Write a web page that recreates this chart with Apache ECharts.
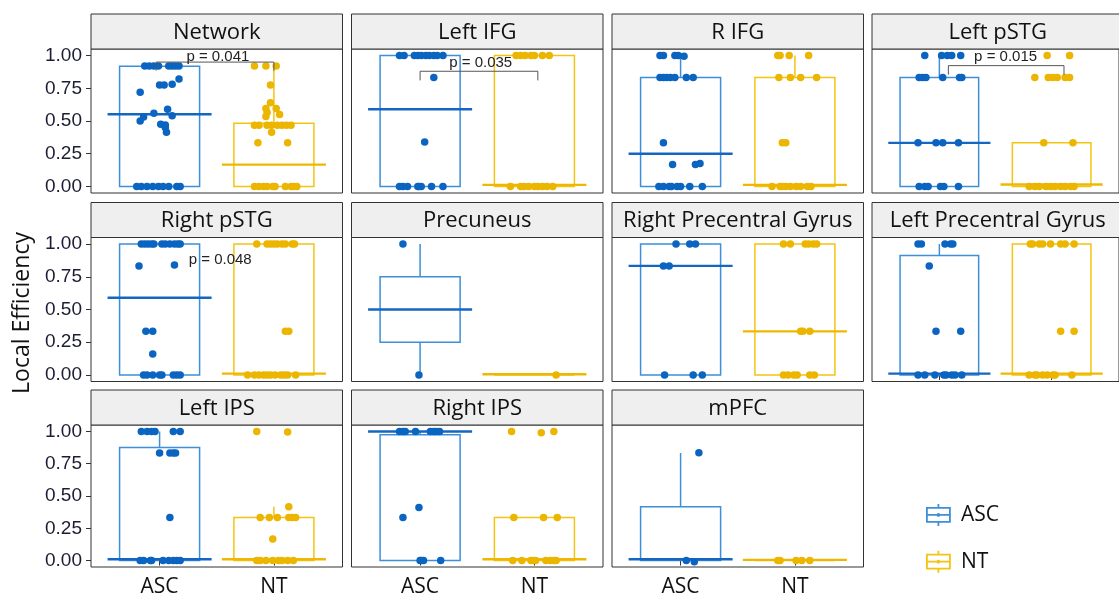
<!DOCTYPE html>
<html><head><meta charset="utf-8">
<script src="https://cdn.jsdelivr.net/npm/echarts@6/dist/echarts.min.js"></script>
<style>html,body{margin:0;padding:0;background:#fff}#c{width:1119px;height:598px}</style>
</head><body><div id="c"></div>
<script>
// ---------- data ----------
const panels = ['Network','Left IFG','R IFG','Left pSTG','Right pSTG','Precuneus',
  'Right Precentral Gyrus','Left Precentral Gyrus','Left IPS','Right IPS','mPFC'];
const groups = ['ASC','NT'];
const yTicks = [0, 0.25, 0.5, 0.75, 1];
// box stats per panel: [min, q1, median, q3, max]
const ascStats = [[0,0,0.551,0.918,0.918],[0,0,0.59,1,1],[0,0,0.25,0.833,1],[0,0,0.333,0.833,1],
  [0,0,0.59,1,1],[0,0.25,0.5,0.75,1],[0,0,0.833,1,1],[0,0,0.01,0.913,1],[0,0,0.01,0.875,1],
  [0,0,1,0.975,1],[0,0,0.01,0.417,0.833]];
const ntStats = [[0,0,0.167,0.482,0.92],[0,0,0.012,1,1],[0,0,0.012,0.833,1],[0,0,0.015,0.333,0.333],
  [0,0,0.01,1,1],[0,0,0.005,0,0],[0,0,0.333,1,1],[0,0,0.01,1,1],[0,0,0.01,0.333,0.417],
  [0,0,0.01,0.333,0.333],[0,0,0.005,0,0]];
// points per panel: [horizontal jitter, value]
const ascPoints = [
 [[-0.13,0.92],[-0.09,0.92],[-0.05,0.92],[-0.01,0.92],[0.08,0.92],[0.11,0.92],[0.14,0.92],[0.17,0.92],
  [0.17,0.82],[0,0.775],[0.04,0.775],[0.11,0.78],[-0.17,0.72],[0.07,0.59],[-0.05,0.56],[0.11,0.54],[-0.14,0.53],
  [-0.17,0.5],[0.01,0.475],[0.05,0.47],[0.05,0.45],[0.06,0.415],
  [-0.2,0],[-0.16,0],[-0.11,0],[-0.06,0],[-0.01,0],[0.03,0],[0.08,0],[0.15,0],[0.18,0]],
 [[-0.18,1],[-0.14,1],[-0.05,1],[-0.02,1],[0.01,1],[0.05,1],[0.08,1],[0.12,1],[0.15,1],[0.2,1],[0.12,0.833],[0.04,0.34],
  [-0.18,0],[-0.15,0],[-0.11,0],[-0.02,0],[-0.01,0],[0.01,0],[0.1,0],[0.2,0]],
 [[-0.18,1],[-0.15,1],[-0.05,1],[-0.02,1],[0.03,0.995],[-0.18,0.833],[-0.15,0.833],[-0.12,0.833],[-0.09,0.833],
  [-0.05,0.833],[0.05,0.833],[0.11,0.833],[-0.15,0.333],[-0.07,0.167],[0.13,0.167],[0.17,0.175],
  [-0.19,0],[-0.15,0],[-0.1,0],[-0.08,0],[-0.03,0],[0,0],[0.08,0],[0.19,0]],
 [[-0.13,1],[0.02,1],[0.07,1],[0.11,1],[0.19,1],[-0.18,0.833],[-0.15,0.833],[-0.12,0.833],[0.03,0.833],[0.18,0.833],
  [0.2,0.833],[-0.19,0.333],[-0.03,0.333],[0.03,0.333],[0.17,0.333],
  [-0.18,0],[-0.13,0],[-0.1,0],[0.01,0],[0.04,0],[0.17,0]],
 [[-0.16,1],[-0.13,1],[-0.1,1],[-0.07,1],[-0.05,1],[0.02,1],[0.05,1],[0.09,1],[0.13,1],[0.16,1],[0.18,1],
  [-0.18,0.833],[0.13,0.84],[-0.12,0.333],[-0.06,0.333],[-0.06,0.16],
  [-0.14,0],[-0.11,0],[-0.06,0],[0,0],[0.02,0],[0.12,0],[0.15,0],[0.18,0]],
 [[-0.15,1],[-0.01,0]],
 [[-0.04,1],[0.08,1],[0.13,1],[-0.15,0.833],[-0.1,0.833],[-0.14,0],[0.11,0],[0.19,0]],
 [[-0.19,1],[-0.16,1],[0.05,1],[0.1,1],[0.12,1],[-0.09,0.833],[-0.03,0.333],[0.19,0.333],
  [-0.19,0],[-0.13,0],[-0.04,0],[0.04,0],[0.06,0],[0.11,0],[0.14,0],[0.2,0]],
 [[-0.16,1],[-0.11,1],[-0.07,1],[-0.04,1],[0.12,1],[0.18,1],[0,0.833],[0.09,0.833],[0.12,0.833],[0.14,0.833],
  [0.09,0.333],[-0.17,0],[-0.14,0],[-0.08,0],[-0.07,0],[0.03,0],[0.08,0],[0.12,0],[0.15,0],[0.18,0]],
 [[-0.18,1],[-0.15,1],[-0.13,1],[-0.04,1],[0.09,1],[0.12,1],[0.14,1],[0.17,1],[-0.01,0.41],[-0.15,0.333],
  [0,0],[0.01,0],[0.03,0],[0.18,0]],
 [[0.16,0.836],[0.05,0],[0.12,-0.01]]
];
const ntPoints = [
 [[-0.17,0.92],[-0.07,0.92],[0.02,0.92],[-0.03,0.775],[-0.03,0.64],[-0.07,0.595],[0.02,0.595],[-0.06,0.565],
  [0.05,0.55],[-0.07,0.535],[-0.17,0.467],[-0.13,0.467],[-0.06,0.467],[-0.02,0.467],[0.03,0.467],[0.07,0.467],
  [0.11,0.467],[0.15,0.467],[-0.02,0.415],[-0.14,0.333],[0.12,0.333],
  [-0.17,0],[-0.13,0],[-0.09,0],[-0.06,0],[-0.01,0],[0.01,0],[0.1,0],[0.15,0],[0.17,0],[0.2,0]],
 [[-0.16,1],[-0.12,1],[-0.08,1],[-0.03,1],[0,1],[0.07,1],[0.13,1],
  [-0.21,0],[-0.12,0],[-0.09,0],[-0.05,0],[0,0],[0.03,0],[0.07,0],[0.11,0],[0.16,0]],
 [[-0.15,1],[-0.13,1],[-0.05,1],[0.12,1],[-0.14,0.833],[-0.04,0.833],[0.05,0.833],[0.19,0.833],[-0.11,0.333],
  [-0.08,0.333],[-0.2,0],[-0.13,0],[-0.11,0],[-0.08,0],[-0.04,0],[0.01,0],[0.05,0],[0.11,0],[0.14,0]],
 [[-0.04,1],[0.16,1],[-0.15,0.833],[-0.03,0.833],[0.01,0.833],[0.05,0.833],[0.12,0.833],[0.16,0.833],
  [-0.07,0.333],[0.19,0.333],[-0.2,0],[-0.15,0],[-0.11,0],[-0.05,0],[-0.01,0],[0.03,0],[0.08,0],[0.12,0],[0.17,0],[0.2,0]],
 [[-0.15,1],[-0.06,1],[-0.03,1],[0,1],[0.03,1],[0.07,1],[0.1,1],[0.16,1],[0.18,1],[0.1,0.333],[0.13,0.333],
  [-0.23,0],[-0.17,0],[-0.13,0],[-0.09,0],[-0.06,0],[-0.03,0],[0.01,0],[0.06,0],[0.09,0],[0.12,0],[0.19,0]],
 [[0.19,0]],
 [[-0.1,1],[-0.04,1],[0.09,1],[0.12,1],[0.16,1],[0.19,1],[0.05,0.333],[0.07,0.333],[0.13,0.333],
  [-0.1,0],[-0.06,0],[-0.01,0],[0.02,0],[0.13,0],[0.17,0]],
 [[-0.19,1],[-0.17,1],[-0.11,1],[-0.08,1],[-0.01,1],[0.08,1],[0.12,1],[0.2,1],[0.08,0.333],[0.2,0.333],
  [-0.2,0],[-0.15,0],[-0.13,0],[-0.08,0],[-0.04,0],[0.01,0],[0.03,0],[0.18,0]],
 [[-0.15,1],[0.12,0.995],[0.13,0.417],[-0.12,0.333],[-0.04,0.333],[0.03,0.333],[0.13,0.333],[0.16,0.333],
  [0.19,0.333],[-0.01,0.167],[-0.15,0],[-0.12,0],[-0.07,0],[-0.01,0],[0.04,0],[0.07,0],[0.12,0],[0.17,0]],
 [[-0.2,1],[0.06,0.99],[0.17,1],[-0.18,0.333],[0.08,0.333],[0.2,0.333],[-0.19,0],[-0.11,0],[-0.03,0],
  [-0.01,0],[0.01,0],[0.1,0],[0.14,0],[0.17,0],[0.19,0]],
 [[-0.15,0],[-0.13,0],[0.01,0],[0.06,0],[0.13,0]]
];
// p-value annotations
const pLabels = ['p = 0.041','p = 0.035','p = 0.015','p = 0.048'];
const pPanel = [0, 1, 3, 4];
const pBracket = [[0.97,2.0,0.95,0.885],[1.0,2.03,0.88,0.81],[1.08,2.11,0.923,0.854],null]; // x1,x2,y,drop
const pText = [[1.51,0.99],[1.53,0.944],[1.59,0.988],[1.53,0.877]];

// ---------- style / layout ----------
const boxColor = {ASC:'#3d8fd9', NT:'#f4c412'};
const medColor = {ASC:'#1466c1', NT:'#efb800'};
const ptColor = {ASC:'#0a64c0', NT:'#ebb500'};
const colX = [91, 351.5, 612, 872];
const rowY = [14, 202.5, 390];
const PW = 251.5, SH = 35, PH = 144;
const stripFont = '"Open Sans", sans-serif';
const tickFont = '"Liberation Sans", Arial, sans-serif';

const grids = [], xAxes = [], yAxes = [], series = [], graphics = [];
panels.forEach((name, i) => {
  const c = i % 4, r = Math.floor(i / 4);
  const left = colX[c], top = rowY[r] + SH;
  grids.push({left: left, top: top, width: PW, height: PH, show: true,
    borderColor: '#333', borderWidth: 1, backgroundColor: '#fff'});
  const showX = (r === 2) || i === 7;
  const labX = r === 2;
  xAxes.push({type: 'value', gridIndex: i, min: 0.4, max: 2.6,
    axisLine: {show: false}, splitLine: {show: false},
    axisTick: {show: showX, customValues: [1, 2], length: 5, lineStyle: {color: '#333'}},
    axisLabel: {show: labX, customValues: [1, 2], formatter: v => groups[Math.round(v) - 1],
      fontSize: 21, color: '#111', fontFamily: stripFont, margin: 10}});
  yAxes.push({type: 'value', gridIndex: i, min: -0.05, max: 1.05,
    axisLine: {show: false}, splitLine: {show: false},
    axisTick: {show: c === 0, customValues: yTicks, length: 5, lineStyle: {color: '#333'}},
    axisLabel: {show: c === 0, customValues: yTicks, formatter: v => v.toFixed(2),
      fontSize: 19, color: '#1c1c34', fontFamily: tickFont, margin: 9}});
  graphics.push({type: 'rect', shape: {x: left, y: rowY[r], width: PW, height: SH},
    style: {fill: '#efefef', stroke: '#333', lineWidth: 1}, z: 10});
  graphics.push({type: 'text', x: left + PW / 2, y: rowY[r] + SH / 2 + 1,
    style: {text: name, fontSize: 22, fontFamily: stripFont, fill: '#111', align: 'center', verticalAlign: 'middle'}, z: 11});

  [['ASC', ascStats[i], ascPoints[i]], ['NT', ntStats[i], ntPoints[i]]].forEach(([g, st, pts], gi) => {
    const xc = gi + 1;
    series.push({type: 'custom', name: g, xAxisIndex: i, yAxisIndex: i, silent: true,
      itemStyle: {color: boxColor[g]},
      data: [[xc].concat(st)],
      renderItem: (params, api) => {
        const x = api.value(0), mn = api.value(1), q1 = api.value(2), md = api.value(3), q3 = api.value(4), mx = api.value(5);
        const tl = api.coord([x - 0.35, q3]), br = api.coord([x + 0.35, q1]);
        const ch = [];
        ch.push({type: 'rect', shape: {x: tl[0], y: tl[1], width: br[0] - tl[0], height: br[1] - tl[1]},
          style: {fill: 'none', stroke: boxColor[g], lineWidth: 1.5}});
        if (mx > q3) { const a = api.coord([x, q3]), b = api.coord([x, mx]);
          ch.push({type: 'line', shape: {x1: a[0], y1: a[1], x2: b[0], y2: b[1]}, style: {stroke: boxColor[g], lineWidth: 1.5}}); }
        if (mn < q1) { const a = api.coord([x, q1]), b = api.coord([x, mn]);
          ch.push({type: 'line', shape: {x1: a[0], y1: a[1], x2: b[0], y2: b[1]}, style: {stroke: boxColor[g], lineWidth: 1.5}}); }
        const m1 = api.coord([x - 0.455, md]), m2 = api.coord([x + 0.455, md]);
        ch.push({type: 'line', shape: {x1: m1[0], y1: m1[1], x2: m2[0], y2: m2[1]}, style: {stroke: medColor[g], lineWidth: 2.4}});
        return {type: 'group', children: ch};
      }, z: 2});
    series.push({type: 'scatter', name: g, xAxisIndex: i, yAxisIndex: i, silent: true,
      symbolSize: 7.5, itemStyle: {color: ptColor[g], opacity: 1},
      data: pts.map(p => [xc + p[0], p[1]]), z: 3});
  });
});

pLabels.forEach((lab, k) => {
  const i = pPanel[k];
  series.push({type: 'custom', xAxisIndex: i, yAxisIndex: i, silent: true,
    data: [[pText[k][0], pText[k][1]]],
    renderItem: (params, api) => {
      const ch = [];
      const b = pBracket[k];
      if (b) {
        const p1 = api.coord([b[0], b[3]]), p2 = api.coord([b[0], b[2]]), p3 = api.coord([b[1], b[2]]), p4 = api.coord([b[1], b[3]]);
        ch.push({type: 'polyline', shape: {points: [p1, p2, p3, p4]}, style: {fill: 'none', stroke: '#555', lineWidth: 1}});
      }
      const t = api.coord([api.value(0), api.value(1)]);
      ch.push({type: 'text', x: t[0], y: t[1], style: {text: lab, fontSize: 15, fontFamily: tickFont, fill: '#222',
        align: 'center', verticalAlign: 'middle'}});
      return {type: 'group', children: ch};
    }, z: 5});
});

graphics.push({type: 'text', x: 22, y: 313, rotation: Math.PI / 2,
  style: {text: 'Local Efficiency', fontSize: 23, fontFamily: stripFont, fill: '#111', align: 'center', verticalAlign: 'middle'}});

const icon = 'path://M0,4H23V18H0Z M11.5,0V4 M11.5,18V22 M0,11H23 M10.5,11a1,1 0 1,0 2,0a1,1 0 1,0 -2,0';
const chart = echarts.init(document.getElementById('c'), null, {renderer: 'canvas'});
chart.setOption({
  animation: false,
  backgroundColor: '#fff',
  grid: grids, xAxis: xAxes, yAxis: yAxes, series: series,
  legend: {orient: 'vertical', left: 921, top: 498, itemWidth: 23, itemHeight: 22, itemGap: 23, selectedMode: false,
    textStyle: {fontSize: 21, fontFamily: stripFont, color: '#111', padding: [0, 0, 3, 6]},
    data: groups.map(g => ({name: g, icon: icon,
      itemStyle: {color: 'transparent', borderColor: boxColor[g], borderWidth: 1.8}}))},
  graphic: graphics
});
</script></body></html>
